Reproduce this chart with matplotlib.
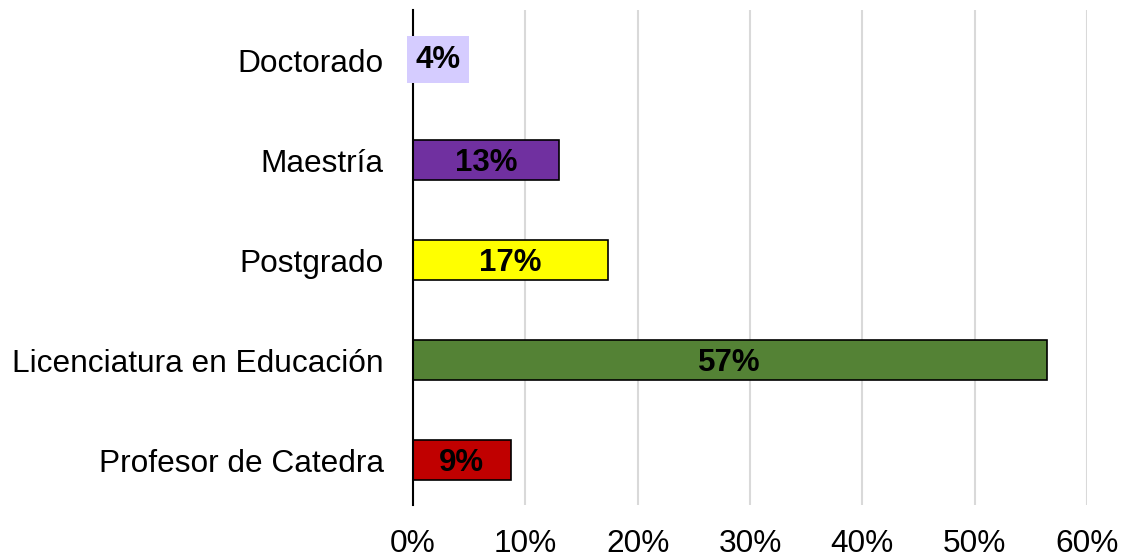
import matplotlib
matplotlib.use('Agg')
import matplotlib.pyplot as plt
from matplotlib.ticker import PercentFormatter

plt.rcParams['font.family'] = ['Liberation Sans', 'DejaVu Sans']

categories = ['Profesor de Catedra', 'Licenciatura en Educación', 'Postgrado', 'Maestría', 'Doctorado']
values = [0.087, 0.564, 0.174, 0.130, 0.043]
labels = ['9%', '57%', '17%', '13%', '4%']
colors = ['#C00000', '#548235', '#FFFF00', '#7030A0', '#D5CCFF']

fig = plt.figure(figsize=(11.24, 5.6), dpi=100)
ax = fig.add_axes([0.3674, 0.098, 0.5997, 0.884])

ypos = range(len(categories))
ax.barh(ypos, values, height=0.4, color=colors, edgecolor='black', linewidth=1.2, zorder=3)

# Doctorado label sits in a filled box that hides its small bar
for y, v, lab, c in zip(ypos, values, labels, colors):
    if lab == '4%':
        ax.text(v / 2 + 0.001, y + 0.005, lab, ha='center', va='center', fontsize=22.5, fontweight='bold',
                zorder=6, bbox=dict(boxstyle='square,pad=0.27', facecolor=c, edgecolor='none'))
    else:
        ax.text(v / 2, y - 0.03, lab, ha='center', va='center', fontsize=22.5, fontweight='bold', zorder=4)

ax.set_xlim(0, 0.6)
ax.set_ylim(-0.45, 4.5)
ax.set_xticks([0, 0.1, 0.2, 0.3, 0.4, 0.5, 0.6])
ax.xaxis.set_major_formatter(PercentFormatter(1.0, decimals=0))
ax.set_yticks(list(ypos))
ax.set_yticklabels(categories)
ax.tick_params(axis='both', length=0, labelsize=22.8)
ax.tick_params(axis='x', pad=17)
ax.tick_params(axis='y', pad=21)

ax.grid(axis='x', color='#D9D9D9', linewidth=1.5, zorder=0)
ax.set_axisbelow(True)
for s in ['top', 'right', 'bottom']:
    ax.spines[s].set_visible(False)
ax.spines['left'].set_color('black')
ax.spines['left'].set_linewidth(1.5)
ax.spines['left'].set_zorder(5)

fig.savefig('out.png', dpi=100)
